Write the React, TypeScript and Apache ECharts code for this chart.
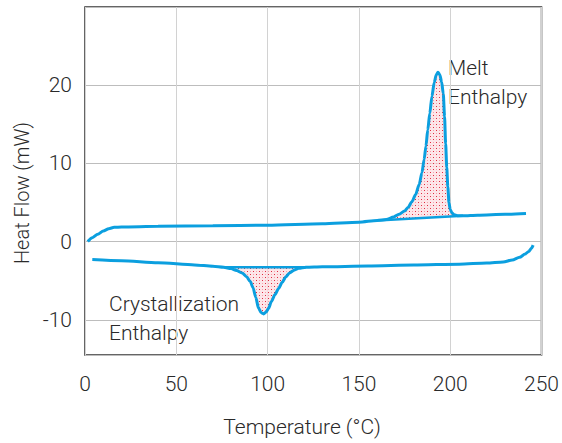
import React, { useEffect, useRef } from 'react';
import * as echarts from 'echarts';

// Heating scan (upper curve): temperature (°C) and heat flow (mW)
const heatT = [1.5, 4, 7, 10, 13, 16, 20, 40, 70, 100, 130, 150, 160, 165, 169, 172, 175, 177, 179, 181, 183, 184.5, 185.7, 186.7, 187.7, 188.8, 190, 191.2, 192.3, 193.3, 194.3, 195.3, 196.2, 196.9, 197.5, 198.1, 198.7, 199.3, 200, 201, 202.3, 204.5, 207, 215, 230, 241.5];
const heatV = [0, 0.5, 0.95, 1.35, 1.65, 1.82, 1.88, 1.95, 2.02, 2.1, 2.28, 2.48, 2.7, 2.82, 3.15, 3.5, 3.9, 4.4, 5.1, 6.0, 7.3, 8.8, 10.5, 12.2, 14.3, 16.4, 18.6, 20.3, 21.3, 21.65, 21.35, 20.4, 18.9, 16.0, 12.5, 9.5, 7.0, 5.0, 4.1, 3.65, 3.42, 3.3, 3.3, 3.38, 3.5, 3.6];

// Cooling scan (lower curve)
const coolT = [4, 20, 40, 60, 70, 76, 80, 83, 86, 88.5, 90.5, 92, 93.5, 95, 96.5, 97.8, 99.2, 100.6, 102, 104, 106, 108, 110, 112, 114.5, 117, 121, 130, 155, 180, 205, 220, 229, 234, 238, 241, 243, 244.5, 245.4];
const coolV = [-2.3, -2.45, -2.7, -2.98, -3.15, -3.28, -3.45, -3.7, -4.0, -4.5, -5.1, -5.9, -7.1, -8.5, -9.1, -9.25, -9.0, -8.5, -7.7, -6.8, -6.0, -5.2, -4.5, -4.0, -3.65, -3.42, -3.28, -3.22, -3.12, -3.0, -2.88, -2.75, -2.6, -2.35, -2.0, -1.6, -1.25, -0.85, -0.45];

// Integration baselines (chords)
const meltChord = [[160, 2.7], [207, 3.3]];
const crystChord = [[76, -3.28], [121, -3.28]];

// Axis ranges and shown tick labels
const xMin = 0, xMax = 250, xStep = 50;
const yMin = -14.5, yMax = 30;
const yTickLabels = [-10, 0, 10, 20];

const annotations = [
  { text: 'Melt', x: 448, y: 68 },
  { text: 'Enthalpy', x: 448, y: 97 },
  { text: 'Crystallization', x: 109, y: 304 },
  { text: 'Enthalpy', x: 109, y: 333 },
];

const BLUE = '#0b9fdf';
const FONT = 'Roboto';
const TEXT = '#2a2a2a';

function makePattern() {
  const c = document.createElement('canvas');
  c.width = 6; c.height = 6;
  const ctx = c.getContext('2d')!;
  ctx.fillStyle = 'rgba(252,222,226,0.75)';
  ctx.fillRect(0, 0, 6, 6);
  ctx.fillStyle = '#e02a40';
  ctx.fillRect(1, 1, 1, 1);
  ctx.fillRect(4, 4, 1, 1);
  ctx.fillStyle = '#f3a3ad';
  ctx.fillRect(4, 1, 1, 1);
  ctx.fillRect(1, 4, 1, 1);
  return { image: c.toDataURL(), repeat: 'repeat', imageWidth: 6, imageHeight: 6 } as any;
}

function pairs(ts: number[], vs: number[]) {
  return ts.map((t, i) => [t, vs[i]]);
}

export default function App() {
  const ref = useRef<HTMLDivElement>(null);
  useEffect(() => {
    if (!ref.current) return;
    const chart = echarts.init(ref.current, undefined, { renderer: 'svg' });
    const pattern = makePattern();
    const heat = pairs(heatT, heatV);
    const cool = pairs(coolT, coolV);
    const meltPts = heat.filter(p => p[0] >= meltChord[0][0] && p[0] <= meltChord[1][0]);
    const crystPts = cool.filter(p => p[0] >= crystChord[0][0] && p[0] <= crystChord[1][0]);

    const fillSeries = (pts: number[][], chord: number[][]) => ({
      type: 'custom',
      coordinateSystem: 'cartesian2d',
      silent: true,
      clip: true,
      z: 1,
      data: [[chord[0][0], chord[0][1]]],
      renderItem: (_p: any, api: any) => {
        const points = pts.map(p => api.coord(p));
        points.push(api.coord(chord[1]), api.coord(chord[0]));
        return { type: 'polygon', shape: { points }, style: { fill: pattern, stroke: null } };
      },
    });

    const lineStyle = { color: BLUE, width: 3 };
    const txt = (size: number) => ({ fill: TEXT, font: `300 ${size}px ${FONT}` });
    chart.setOption({
      animation: false,
      grid: { left: 85, right: 17, top: 7, bottom: 88, show: true, borderColor: '#333', borderWidth: 1.5, backgroundColor: 'transparent' },
      xAxis: {
        type: 'value', min: xMin, max: xMax, interval: xStep,
        axisLine: { show: false }, axisTick: { show: false },
        axisLabel: { margin: 18, color: TEXT, fontSize: 21, fontWeight: 300, fontFamily: FONT },
        splitLine: { show: true, lineStyle: { color: '#d2d2d2', width: 1 } },
      },
      yAxis: {
        type: 'value', min: yMin, max: yMax,
        axisLine: { show: false }, axisTick: { show: false },
        axisLabel: {
          margin: 13, color: TEXT, fontSize: 21, fontWeight: 300, fontFamily: FONT,
          showMinLabel: false, showMaxLabel: false,
          formatter: (v: number) => (yTickLabels.includes(v) ? String(v) : ''),
        },
        splitLine: { show: true, lineStyle: { color: '#bdbdbd', width: 1 } },
      },
      graphic: [
        ...annotations.map(a => ({
          type: 'text', x: a.x, y: a.y, silent: true,
          style: { text: a.text, ...txt(21), align: 'left', verticalAlign: 'middle', textAlign: 'left', textVerticalAlign: 'middle' },
        })),
        {
          type: 'text', x: 22, y: 193, rotation: Math.PI / 2, silent: true,
          style: { text: 'Heat Flow (mW)', ...txt(20), align: 'center', verticalAlign: 'middle', textAlign: 'center', textVerticalAlign: 'middle' },
        },
        {
          type: 'text', x: 302, y: 427, silent: true,
          style: { text: 'Temperature (°C)', ...txt(21), align: 'center', verticalAlign: 'middle', textAlign: 'center', textVerticalAlign: 'middle' },
        },
      ],
      series: [
        fillSeries(meltPts, meltChord),
        fillSeries(crystPts, crystChord),
        { type: 'line', data: heat, symbol: 'none', smooth: 0.25, smoothMonotone: 'x', lineStyle, z: 3 },
        { type: 'line', data: cool, symbol: 'none', smooth: 0.25, smoothMonotone: 'x', lineStyle, z: 3 },
        { type: 'line', data: meltChord, symbol: 'none', lineStyle: { color: BLUE, width: 2.5 }, z: 2 },
        { type: 'line', data: crystChord, symbol: 'none', lineStyle: { color: BLUE, width: 2.5 }, z: 2 },
      ],
    });
    return () => chart.dispose();
  }, []);
  return <div ref={ref} style={{ position: 'absolute', left: 0, top: 0, width: 562, height: 443 }} />;
}
